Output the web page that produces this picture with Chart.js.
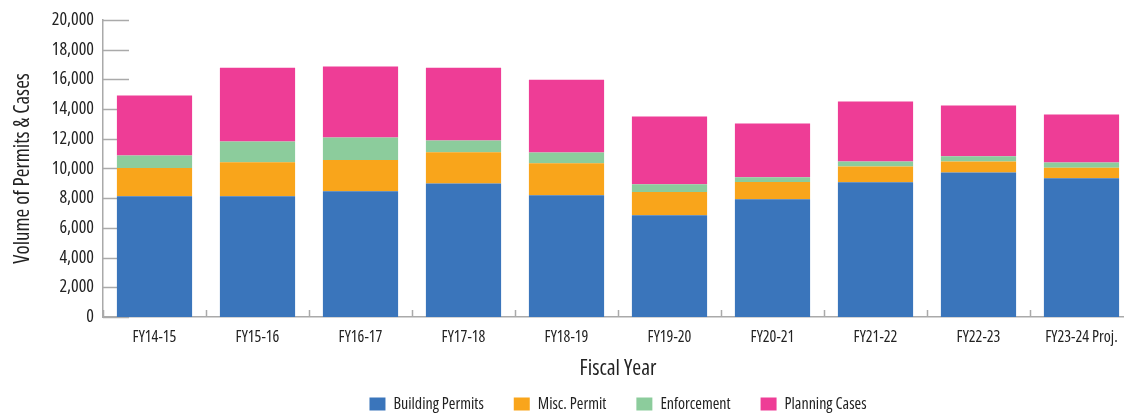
<!DOCTYPE html>
<html>
<head>
<meta charset="utf-8">
<script src="https://cdn.jsdelivr.net/npm/chart.js@4.4.1/dist/chart.umd.min.js"></script>
<style>
  html, body { margin: 0; padding: 0; background: #fff; overflow: hidden; }
  canvas { display: block; }
</style>
</head>
<body>
<canvas id="permits-chart" width="1134" height="422"></canvas>
<script>
// Fiscal years and volumes per category
const fiscalYears = ["FY14-15", "FY15-16", "FY16-17", "FY17-18", "FY18-19", "FY19-20", "FY20-21", "FY21-22", "FY22-23", "FY23-24 Proj."];
const buildingPermits = [8120, 8120, 8460, 8990, 8190, 6850, 7920, 9060, 9730, 9330];
const miscPermit = [1900, 2300, 2100, 2100, 2150, 1560, 1160, 1070, 740, 720];
const enforcement = [850, 1390, 1520, 790, 730, 520, 320, 340, 340, 350];
const planningCases = [4030, 4970, 4770, 4900, 4900, 4560, 3620, 4030, 3420, 3220];

// Narrow face: Open Sans at its condensed width
const FONT = "'Open Sans', 'DejaVu Sans Condensed', sans-serif";
const NARROW = "condensed";
const TEXT = "#222";
const AXIS = "#aaaaaa";

// Short tick marks pointing into the plot, drawn under the bars
const innerTicks = {
  id: "innerTicks",
  beforeDatasetsDraw(chart) {
    const { ctx, scales: { x, y } } = chart;
    ctx.save();
    ctx.strokeStyle = AXIS;
    ctx.lineWidth = 1.5;
    ctx.beginPath();
    y.ticks.forEach((t, i) => {
      const py = Math.round(y.getPixelForTick(i)) + 0.5;
      ctx.moveTo(y.right, py);
      ctx.lineTo(y.right + 26, py);
    });
    for (let i = 0; i <= fiscalYears.length; i++) {
      const px = Math.round(x.getPixelForValue(i - 0.5)) + 0.5;
      ctx.moveTo(px, x.top);
      ctx.lineTo(px, x.top - 7);
    }
    ctx.stroke();
    ctx.restore();
  },
};

const ctx = document.getElementById("permits-chart").getContext("2d");
new Chart(ctx, {
  type: "bar",
  data: {
    labels: fiscalYears,
    datasets: [
      { label: "Building Permits", data: buildingPermits, backgroundColor: "#3a75bb" },
      { label: "Misc. Permit", data: miscPermit, backgroundColor: "#f9a51b" },
      { label: "Enforcement", data: enforcement, backgroundColor: "#8ccc9c" },
      { label: "Planning Cases", data: planningCases, backgroundColor: "#ee3d96" },
    ],
  },
  options: {
    responsive: false,
    animation: false,
    layout: { padding: { top: 19, left: 0, right: 1, bottom: 0 } },
    datasets: {
      bar: { barPercentage: 0.73, categoryPercentage: 1.0, borderWidth: 0 },
    },
    scales: {
      x: {
        stacked: true,
        grid: { display: false, drawTicks: false },
        border: { color: AXIS, width: 1.5 },
        ticks: {
          color: TEXT,
          font: { family: FONT, size: 16, weight: NARROW },
          padding: 11,
          maxRotation: 0,
          autoSkip: false,
        },
        title: {
          display: true,
          text: "Fiscal Year",
          color: TEXT,
          font: { family: FONT, size: 21.5, weight: NARROW },
          padding: { top: 0, bottom: -16 },
        },
        afterFit(scale) { scale.height = 49; },
      },
      y: {
        stacked: true,
        min: 0,
        max: 20000,
        grid: { display: false, drawTicks: false },
        border: { color: AXIS, width: 1.5 },
        ticks: {
          stepSize: 2000,
          color: TEXT,
          font: { family: FONT, size: 18, weight: NARROW },
          padding: 9,
          callback: (v) => v.toLocaleString("en-US"),
        },
        title: {
          display: true,
          text: "Volume of Permits & Cases",
          color: TEXT,
          font: { family: FONT, size: 21, weight: NARROW },
          padding: { top: 10, bottom: 0 },
        },
        afterFit(scale) { scale.width = 103; },
      },
    },
    plugins: {
      legend: {
        position: "bottom",
        fullSize: false,
        labels: {
          color: TEXT,
          font: { family: FONT, size: 16, weight: NARROW },
          boxWidth: 16,
          boxHeight: 13,
          padding: 30,
        },
      },
      tooltip: { enabled: false },
    },
  },
  plugins: [innerTicks],
});
</script>
</body>
</html>
